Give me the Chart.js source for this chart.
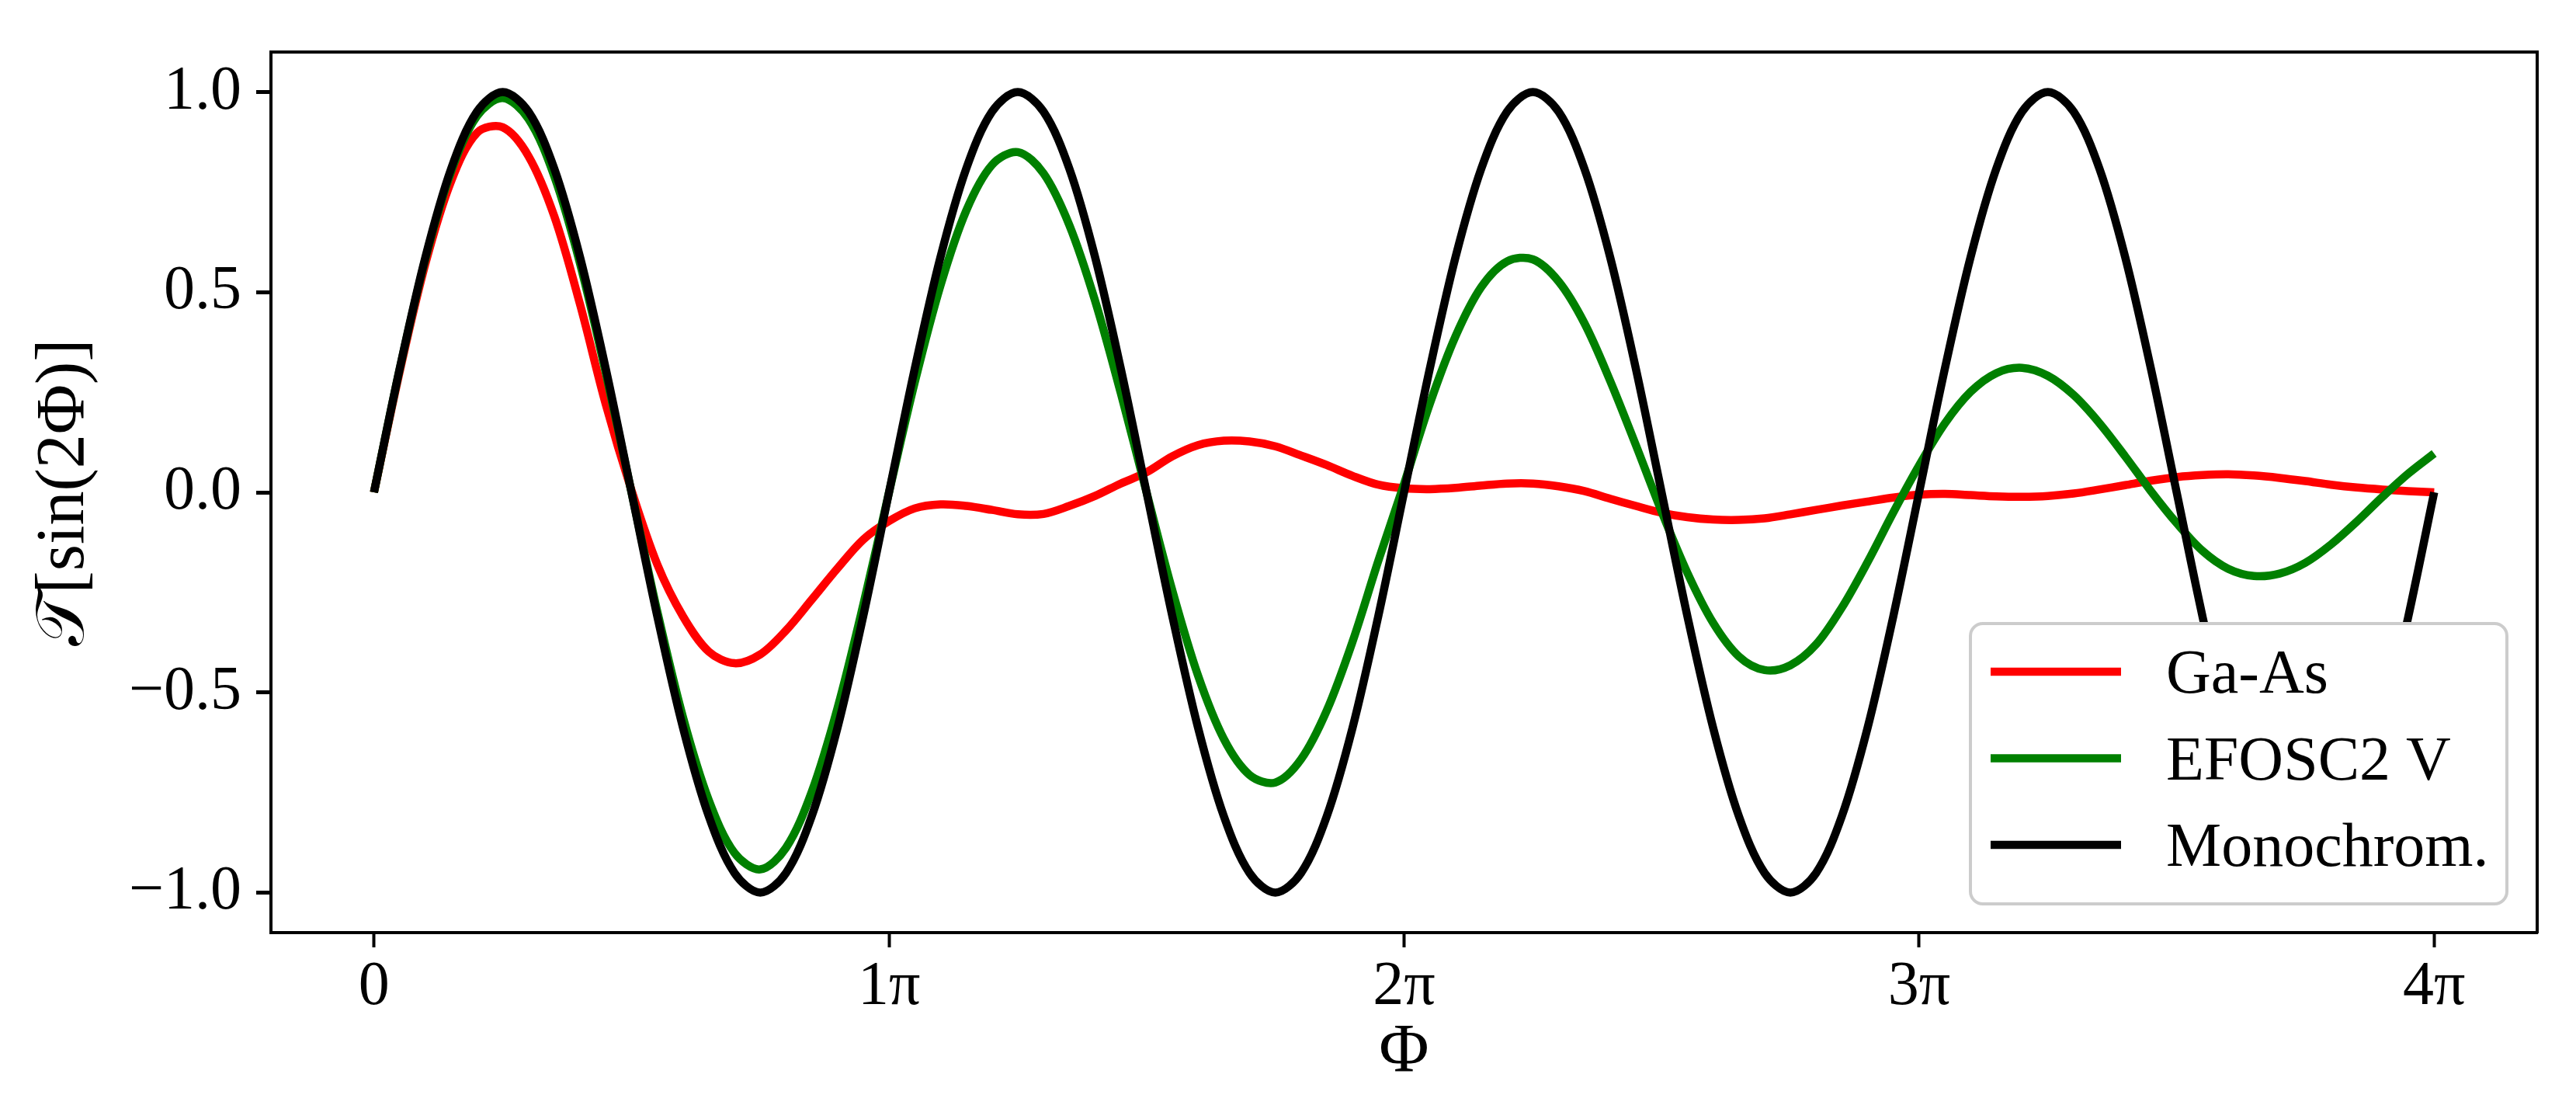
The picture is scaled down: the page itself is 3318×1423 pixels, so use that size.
<!DOCTYPE html>
<html>
<head>
<meta charset="utf-8">
<script src="https://cdn.jsdelivr.net/npm/chart.js@4.4.1/dist/chart.umd.min.js"></script>
<style>
html,body{margin:0;padding:0;background:#ffffff;}
#wrap{width:3318px;height:1423px;position:relative;}
</style>
</head>
<body>
<div id="wrap"><canvas id="c" width="3318" height="1423"></canvas></div>
<script>
// Phi in units of pi
const phi = [0.00,0.05,0.10,0.15,0.20,0.25,0.30,0.35,0.40,0.45,
  0.50,0.55,0.60,0.65,0.70,0.75,0.80,0.85,0.90,0.95,
  1.00,1.05,1.10,1.15,1.20,1.25,1.30,1.35,1.40,1.45,
  1.50,1.55,1.60,1.65,1.70,1.75,1.80,1.85,1.90,1.95,
  2.00,2.05,2.10,2.15,2.20,2.25,2.30,2.35,2.40,2.45,
  2.50,2.55,2.60,2.65,2.70,2.75,2.80,2.85,2.90,2.95,
  3.00,3.05,3.10,3.15,3.20,3.25,3.30,3.35,3.40,3.45,
  3.50,3.55,3.60,3.65,3.70,3.75,3.80,3.85,3.90,3.95,4.00];

const gaAs = [0.000,0.302,0.572,0.778,0.898,0.912,0.840,0.690,0.470,0.220,
  0.005,-0.180,-0.310,-0.398,-0.427,-0.405,-0.345,-0.268,-0.190,-0.118,
  -0.072,-0.040,-0.030,-0.034,-0.044,-0.055,-0.054,-0.034,-0.009,0.022,
  0.050,0.090,0.118,0.129,0.127,0.115,0.092,0.068,0.041,0.019,
  0.010,0.008,0.011,0.017,0.022,0.022,0.015,0.003,-0.016,-0.034,
  -0.051,-0.062,-0.068,-0.069,-0.065,-0.055,-0.044,-0.033,-0.023,-0.013,
  -0.006,-0.004,-0.007,-0.010,-0.011,-0.009,-0.003,0.007,0.018,0.029,
  0.038,0.043,0.045,0.042,0.036,0.028,0.019,0.012,0.007,0.003,0.000];

const efosc2V = [0.000,0.308,0.584,0.802,0.940,0.985,0.933,0.790,0.572,0.299,
  0.000,-0.297,-0.562,-0.769,-0.901,-0.942,-0.888,-0.748,-0.539,-0.281,
  0.000,0.275,0.517,0.704,0.818,0.850,0.797,0.668,0.479,0.248,
  0.000,-0.245,-0.458,-0.616,-0.706,-0.725,-0.667,-0.545,-0.373,-0.171,
  0.021,0.221,0.390,0.513,0.577,0.582,0.527,0.423,0.279,0.118,
  -0.048,-0.201,-0.326,-0.410,-0.444,-0.432,-0.380,-0.288,-0.174,-0.050,
  0.067,0.172,0.251,0.298,0.311,0.291,0.243,0.173,0.090,0.003,
  -0.077,-0.146,-0.191,-0.209,-0.203,-0.176,-0.130,-0.073,-0.011,0.047,0.097];

const monochrom = [0.000,0.309,0.588,0.809,0.951,1.000,0.951,0.809,0.588,0.309,
  0.000,-0.309,-0.588,-0.809,-0.951,-1.000,-0.951,-0.809,-0.588,-0.309,
  0.000,0.309,0.588,0.809,0.951,1.000,0.951,0.809,0.588,0.309,
  0.000,-0.309,-0.588,-0.809,-0.951,-1.000,-0.951,-0.809,-0.588,-0.309,
  0.000,0.309,0.588,0.809,0.951,1.000,0.951,0.809,0.588,0.309,
  0.000,-0.309,-0.588,-0.809,-0.951,-1.000,-0.951,-0.809,-0.588,-0.309,
  0.000,0.309,0.588,0.809,0.951,1.000,0.951,0.809,0.588,0.309,
  0.000,-0.309,-0.588,-0.809,-0.951,-1.000,-0.951,-0.809,-0.588,-0.309,0.000];

const seriesNames = ['Ga-As', 'EFOSC2 V', 'Monochrom.'];
const seriesColors = ['#ff0000', '#008000', '#000000'];

const xTickValues = [0, 1, 2, 3, 4];
const xTickLabels = ['0', '1π', '2π', '3π', '4π'];
const yTickValues = [-1, -0.5, 0, 0.5, 1];
const yTickLabels = ['\u22121.0', '\u22120.5', '0.0', '0.5', '1.0'];
const xTitle = 'Φ';
const yTitle = '\u{1D4AF}[sin(2Φ)]';

const FONT = "'Liberation Serif', 'DejaVu Serif', serif";

function toPoints(arr) { return phi.map((x, i) => ({ x: x, y: arr[i] })); }

const seriesData = [gaAs, efosc2V, monochrom];
const datasets = seriesData.map((arr, i) => ({
  label: seriesNames[i],
  data: toPoints(arr),
  borderColor: seriesColors[i],
  backgroundColor: seriesColors[i],
  borderWidth: 10.5,
  pointRadius: 0,
  tension: 0.33,
  fill: false,
  order: 3 - i,
  borderCapStyle: 'butt',
  borderJoinStyle: 'round'
}));

const legendPlugin = {
  id: 'boxLegend',
  afterDatasetsDraw(chart) {
    const ctx = chart.ctx;
    const area = chart.chartArea;
    const w = 691, h = 361;
    const x0 = area.right - 39 - w;
    const y0 = area.bottom - 37 - h;
    ctx.save();
    ctx.beginPath();
    ctx.roundRect(x0, y0, w, h, 16);
    ctx.fillStyle = '#ffffff';
    ctx.fill();
    ctx.lineWidth = 4;
    ctx.strokeStyle = '#cccccc';
    ctx.stroke();
    chart.data.datasets.forEach((ds, i) => {
      const ly = y0 + 62 + i * 111.5;
      ctx.beginPath();
      ctx.moveTo(x0 + 26, ly);
      ctx.lineTo(x0 + 194, ly);
      ctx.lineWidth = 10.5;
      ctx.strokeStyle = ds.borderColor;
      ctx.lineCap = 'butt';
      ctx.stroke();
      ctx.fillStyle = '#000000';
      ctx.font = '80px ' + FONT;
      ctx.textAlign = 'left';
      ctx.textBaseline = 'alphabetic';
      ctx.fillText(ds.label, x0 + 252, ly + 27);
    });
    ctx.restore();
  }
};

new Chart(document.getElementById('c'), {
  type: 'line',
  data: { datasets: datasets },
  plugins: [legendPlugin],
  options: {
    responsive: false,
    animation: false,
    devicePixelRatio: 1,
    layout: { padding: { left: 0, top: 64, right: 50, bottom: 0 } },
    plugins: { legend: { display: false }, tooltip: { enabled: false } },
    scales: {
      x: {
        type: 'linear', position: 'bottom', min: -0.2, max: 4.2,
        afterBuildTicks: s => { s.ticks = xTickValues.map(v => ({ value: v })); },
        afterFit: s => { s.height = 222; },
        ticks: {
          callback: (v, i) => xTickLabels[i],
          font: { family: FONT, size: 80 }, color: '#000000',
          padding: 4, maxRotation: 0, autoSkip: false
        },
        grid: { drawOnChartArea: false, drawTicks: true, tickLength: 19, tickWidth: 4, tickColor: '#000000' },
        border: { display: true, color: '#000000', width: 4 },
        title: { display: true, text: xTitle, color: '#000000', font: { family: FONT, size: 88 }, padding: { top: 0, bottom: 14 } }
      },
      xTop: {
        type: 'linear', position: 'top', min: -0.2, max: 4.2,
        afterFit: s => { s.height = 0; },
        ticks: { display: false },
        grid: { drawOnChartArea: false, drawTicks: false },
        border: { display: true, color: '#000000', width: 4 }
      },
      y: {
        type: 'linear', position: 'left', min: -1.1, max: 1.1,
        afterBuildTicks: s => { s.ticks = yTickValues.map(v => ({ value: v })); },
        afterFit: s => { s.width = 349; },
        ticks: {
          callback: (v, i) => yTickLabels[i],
          font: { family: FONT, size: 80 }, color: '#000000',
          padding: 19, autoSkip: false
        },
        grid: { drawOnChartArea: false, drawTicks: true, tickLength: 19, tickWidth: 5, tickColor: '#000000' },
        border: { display: true, color: '#000000', width: 4 },
        title: { display: true, text: yTitle, color: '#000000', font: { family: FONT, size: 88 }, padding: { top: 31, bottom: 0 } }
      },
      yRight: {
        type: 'linear', position: 'right', min: -1.1, max: 1.1,
        afterFit: s => { s.width = 0; },
        ticks: { display: false },
        grid: { drawOnChartArea: false, drawTicks: false },
        border: { display: true, color: '#000000', width: 4 }
      }
    }
  }
});
</script>
</body>
</html>
